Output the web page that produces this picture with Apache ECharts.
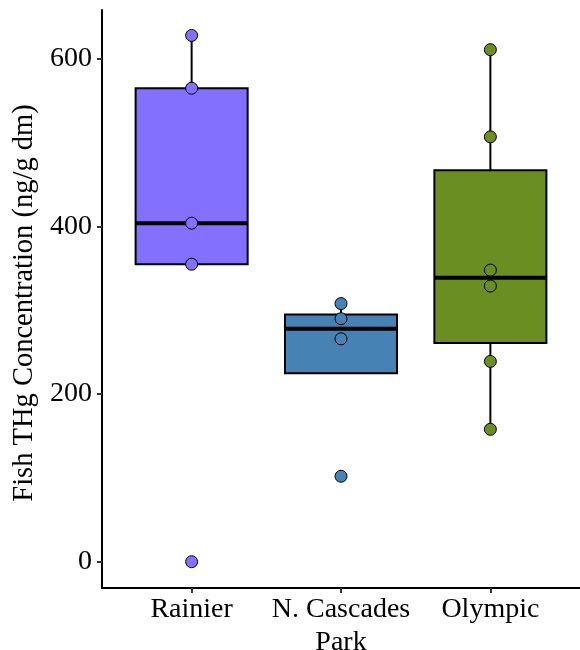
<!DOCTYPE html>
<html>
<head>
<meta charset="utf-8">
<script src="https://cdn.jsdelivr.net/npm/echarts@6/dist/echarts.min.js"></script>
<style>html,body{margin:0;padding:0;background:#fff}#c{width:580px;height:650px}</style>
</head>
<body>
<div id="c"></div>
<script>
// Categories
const parks = ['Rainier', 'N. Cascades', 'Olympic'];
const colors = ['#8470FF', '#4682B4', '#6B8E23'];
// Raw observations per park
const rainierPts = [628, 565, 404, 355, 0];
const cascadesPts = [308, 290, 266, 102];
const olympicPts = [611, 507, 348, 329, 239, 158];
// Box statistics: [whiskerLow, q1, median, q3, whiskerHigh]
const rainierBox = [355, 355, 404, 565, 628];
const cascadesBox = [225, 225, 278, 295, 308];
const olympicBox = [158, 261, 339, 467, 611];
// Tick labels
const yTicks = [0, 200, 400, 600];

const allPts = [rainierPts, cascadesPts, olympicPts];
const allBox = [rainierBox, cascadesBox, olympicBox];

const font = 'Liberation Serif';
const fs = 28;
const boxHalf = 0.375;

const boxData = allBox.map((b, i) => ({
  value: [i + 1, b[0], b[1], b[2], b[3], b[4]]
}));

const pointData = [];
allPts.forEach((arr, i) => {
  arr.forEach(v => pointData.push({ value: [i + 1, v], itemStyle: { color: colors[i] } }));
});

const chart = echarts.init(document.getElementById('c'), null, { renderer: 'canvas' });
chart.setOption({
  backgroundColor: '#fff',
  animation: false,
  grid: { left: 102, right: 0, top: 10, bottom: 62, outerBoundsMode: 'none', containLabel: false },
  xAxis: {
    type: 'value', min: 0.4, max: 3.6,
    name: 'Park', nameLocation: 'middle', nameGap: 37,
    nameTextStyle: { fontFamily: font, fontSize: fs, color: '#000' },
    axisLine: { show: true, onZero: false, lineStyle: { color: '#000', width: 2 } },
    axisTick: { show: true, customValues: [1, 2, 3], length: 5, lineStyle: { color: '#333', width: 2 } },
    axisLabel: {
      customValues: [1, 2, 3], margin: 8,
      formatter: v => parks[Math.round(v) - 1],
      fontFamily: font, fontSize: fs, color: '#000'
    },
    splitLine: { show: false }
  },
  yAxis: {
    type: 'value', min: -31.35, max: 658.35,
    name: 'Fish THg Concentration (ng/g dm)', nameLocation: 'middle', nameGap: 53,
    nameTextStyle: { fontFamily: font, fontSize: 28.5, color: '#000', padding: [0, 8, 0, 0] },
    axisLine: { show: true, onZero: false, lineStyle: { color: '#000', width: 2 } },
    axisTick: { show: true, customValues: yTicks, length: 5, lineStyle: { color: '#333', width: 2 } },
    axisLabel: { customValues: yTicks, margin: 10, fontFamily: font, fontSize: fs, color: '#000' },
    splitLine: { show: false }
  },
  series: [
    {
      type: 'custom',
      data: boxData,
      encode: { x: 0, y: [1, 2, 3, 4, 5] },
      renderItem: function (params, api) {
        const x = api.value(0);
        const wlo = api.value(1), q1 = api.value(2), med = api.value(3), q3 = api.value(4), whi = api.value(5);
        const color = colors[params.dataIndex];
        const pTop = api.coord([x, q3]);
        const pBot = api.coord([x, q1]);
        const pHi = api.coord([x, whi]);
        const pLo = api.coord([x, wlo]);
        const pL = api.coord([x - boxHalf, med]);
        const pR = api.coord([x + boxHalf, med]);
        const left = pL[0], right = pR[0];
        return {
          type: 'group',
          children: [
            { type: 'line', shape: { x1: pTop[0], y1: pTop[1], x2: pHi[0], y2: pHi[1] }, style: { stroke: '#000', lineWidth: 2 } },
            { type: 'line', shape: { x1: pBot[0], y1: pBot[1], x2: pLo[0], y2: pLo[1] }, style: { stroke: '#000', lineWidth: 2 } },
            { type: 'rect', shape: { x: left, y: pTop[1], width: right - left, height: pBot[1] - pTop[1] }, style: { fill: color, stroke: '#000', lineWidth: 2 } },
            { type: 'line', shape: { x1: left, y1: pL[1], x2: right, y2: pR[1] }, style: { stroke: '#000', lineWidth: 4 } }
          ]
        };
      },
      z: 2
    },
    {
      type: 'scatter',
      data: pointData,
      symbol: 'circle',
      symbolSize: 12,
      itemStyle: { borderColor: '#000', borderWidth: 1, opacity: 1 },
      z: 3
    }
  ]
});
</script>
</body>
</html>
